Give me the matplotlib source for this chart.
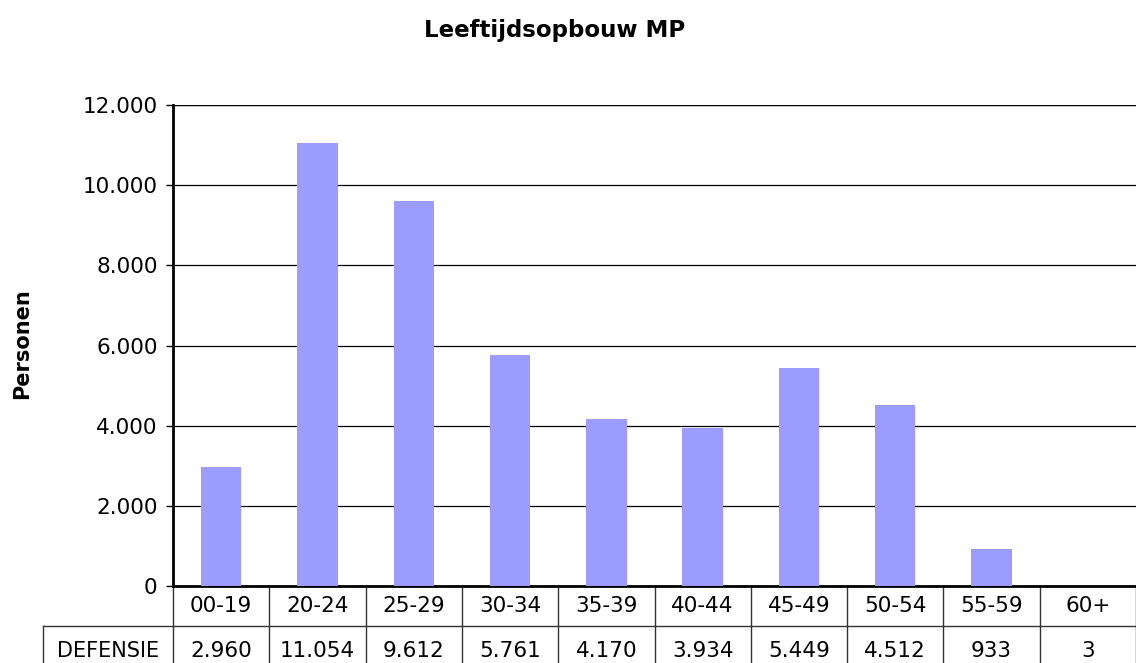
import matplotlib
matplotlib.use('Agg')
import matplotlib.pyplot as plt
import matplotlib.transforms as mtrans
import numpy as np

categories = ['00-19', '20-24', '25-29', '30-34', '35-39', '40-44', '45-49', '50-54', '55-59', '60+']
defensie = [2960, 11054, 9612, 5761, 4170, 3934, 5449, 4512, 933, 3]
series_name = 'DEFENSIE'
yticks = [0, 2000, 4000, 6000, 8000, 10000, 12000]


def fmt(v):
    return f'{v:,}'.replace(',', '.')


plt.rcParams['font.family'] = 'DejaVu Sans'
fig = plt.figure(figsize=(11.36, 6.63), dpi=100, facecolor='white')
ax = fig.add_axes([173 / 1136, 77 / 663, 963 / 1136, 481 / 663])

x = np.arange(len(categories))
ax.bar(x, defensie, width=0.42, color='#9C9CFF', zorder=3)

ax.set_xlim(-0.5, len(categories) - 0.5)
ax.set_ylim(0, 12000)
ax.set_yticks(yticks)
ax.set_yticklabels([fmt(v) for v in yticks], fontsize=15.5)
ax.set_xticks([])
ax.tick_params(axis='y', length=5, width=1, pad=6, colors='black')
ax.yaxis.grid(True, color='black', linewidth=0.9, zorder=0)
for s in ['right', 'top']:
    ax.spines[s].set_visible(False)
ax.spines['left'].set_linewidth(2)
ax.spines['bottom'].set_linewidth(2)
ax.axhline(12000, color='black', linewidth=1.6, zorder=4)

fig.text(22 / 1136, 1 - 344 / 663, 'Personen', rotation=90, ha='center', va='center',
         fontsize=15, fontweight='bold')
fig.text(555 / 1136, 1 - 31 / 663, 'Leeftijdsopbouw MP', ha='center', va='center',
         fontsize=16.5, fontweight='bold')

# data table under the axis
tr = mtrans.blended_transform_factory(ax.transData, ax.transAxes)
rh = 40 / 481
lc = '#333333'
for i in range(len(categories) + 1):
    ax.plot([i - 0.5, i - 0.5], [0, -2.2 * rh], transform=tr, color=lc, lw=1, clip_on=False)
ax.plot([-0.5, len(categories) - 0.5], [-rh, -rh], transform=tr, color=lc, lw=1, clip_on=False)
ax.plot([-130 / 963, 0], [-rh, -rh], transform=ax.transAxes, color=lc, lw=1, clip_on=False)
ax.plot([-130 / 963, -130 / 963], [-rh, -2.2 * rh], transform=ax.transAxes, color=lc, lw=1, clip_on=False)

for i, (c, v) in enumerate(zip(categories, defensie)):
    ax.text(i, -rh / 2, c, transform=tr, ha='center', va='center', fontsize=15.5)
    ax.text(i, -1.62 * rh, fmt(v), transform=tr, ha='center', va='center', fontsize=15.5)
ax.text(-65 / 963, -1.62 * rh, series_name, transform=ax.transAxes, ha='center', va='center',
        fontsize=15)

fig.savefig('out.png', dpi=100, facecolor='white')
